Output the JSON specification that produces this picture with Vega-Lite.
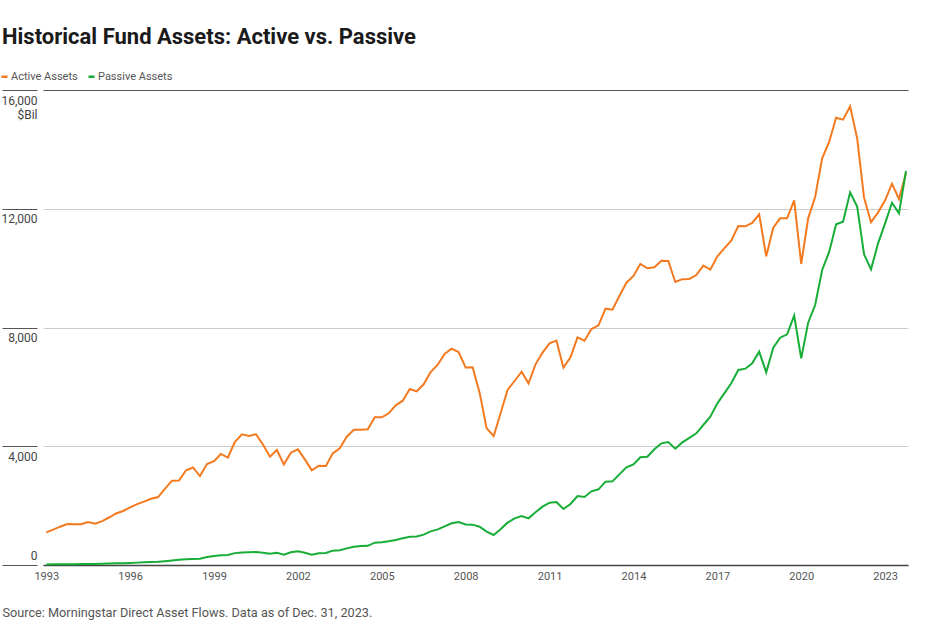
{
  "$schema": "https://vega.github.io/schema/vega-lite/v6.json",
  "width": 865,
  "height": 475,
  "autosize": {"type": "none"},
  "padding": {"left": 43, "top": 90, "right": 28, "bottom": 59},
  "background": "white",
  "config": {"view": {"stroke": null}, "font": "Roboto"},
  "title": {"text": "Historical Fund Assets: Active vs. Passive", "anchor": "start", "frame": "group", "dx": -41, "fontSize": 22, "fontWeight": "bold", "color": "#1a1a1a", "baseline": "alphabetic", "offset": 5, "font": "Roboto"},
  "data": {"values": [
    {"d": "1993-01-01", "Active Assets": 1100, "Passive Assets": 20},
    {"d": "1993-04-01", "Active Assets": 1190, "Passive Assets": 22},
    {"d": "1993-07-01", "Active Assets": 1290, "Passive Assets": 24},
    {"d": "1993-10-01", "Active Assets": 1381, "Passive Assets": 26},
    {"d": "1994-01-01", "Active Assets": 1375, "Passive Assets": 28},
    {"d": "1994-04-01", "Active Assets": 1375, "Passive Assets": 30},
    {"d": "1994-07-01", "Active Assets": 1448, "Passive Assets": 33},
    {"d": "1994-10-01", "Active Assets": 1390, "Passive Assets": 37},
    {"d": "1995-01-01", "Active Assets": 1480, "Passive Assets": 42},
    {"d": "1995-04-01", "Active Assets": 1600, "Passive Assets": 48},
    {"d": "1995-07-01", "Active Assets": 1735, "Passive Assets": 55},
    {"d": "1995-10-01", "Active Assets": 1820, "Passive Assets": 62},
    {"d": "1996-01-01", "Active Assets": 1940, "Passive Assets": 70},
    {"d": "1996-04-01", "Active Assets": 2050, "Passive Assets": 80},
    {"d": "1996-07-01", "Active Assets": 2135, "Passive Assets": 90},
    {"d": "1996-10-01", "Active Assets": 2230, "Passive Assets": 100},
    {"d": "1997-01-01", "Active Assets": 2290, "Passive Assets": 112},
    {"d": "1997-04-01", "Active Assets": 2570, "Passive Assets": 130},
    {"d": "1997-07-01", "Active Assets": 2840, "Passive Assets": 150},
    {"d": "1997-10-01", "Active Assets": 2845, "Passive Assets": 175},
    {"d": "1998-01-01", "Active Assets": 3190, "Passive Assets": 190},
    {"d": "1998-04-01", "Active Assets": 3285, "Passive Assets": 200},
    {"d": "1998-07-01", "Active Assets": 2995, "Passive Assets": 213},
    {"d": "1998-10-01", "Active Assets": 3400, "Passive Assets": 270},
    {"d": "1999-01-01", "Active Assets": 3500, "Passive Assets": 300},
    {"d": "1999-04-01", "Active Assets": 3740, "Passive Assets": 330},
    {"d": "1999-07-01", "Active Assets": 3620, "Passive Assets": 337},
    {"d": "1999-10-01", "Active Assets": 4150, "Passive Assets": 400},
    {"d": "2000-01-01", "Active Assets": 4400, "Passive Assets": 420},
    {"d": "2000-04-01", "Active Assets": 4350, "Passive Assets": 430},
    {"d": "2000-07-01", "Active Assets": 4405, "Passive Assets": 435},
    {"d": "2000-10-01", "Active Assets": 4060, "Passive Assets": 415},
    {"d": "2001-01-01", "Active Assets": 3650, "Passive Assets": 380},
    {"d": "2001-04-01", "Active Assets": 3874, "Passive Assets": 415},
    {"d": "2001-07-01", "Active Assets": 3391, "Passive Assets": 350},
    {"d": "2001-10-01", "Active Assets": 3784, "Passive Assets": 427},
    {"d": "2002-01-01", "Active Assets": 3896, "Passive Assets": 460},
    {"d": "2002-04-01", "Active Assets": 3559, "Passive Assets": 415},
    {"d": "2002-07-01", "Active Assets": 3189, "Passive Assets": 348},
    {"d": "2002-10-01", "Active Assets": 3346, "Passive Assets": 393},
    {"d": "2003-01-01", "Active Assets": 3335, "Passive Assets": 404},
    {"d": "2003-04-01", "Active Assets": 3761, "Passive Assets": 483},
    {"d": "2003-07-01", "Active Assets": 3930, "Passive Assets": 494},
    {"d": "2003-10-01", "Active Assets": 4322, "Passive Assets": 561},
    {"d": "2004-01-01", "Active Assets": 4558, "Passive Assets": 617},
    {"d": "2004-04-01", "Active Assets": 4558, "Passive Assets": 640},
    {"d": "2004-07-01", "Active Assets": 4570, "Passive Assets": 645},
    {"d": "2004-10-01", "Active Assets": 4974, "Passive Assets": 752},
    {"d": "2005-01-01", "Active Assets": 4974, "Passive Assets": 764},
    {"d": "2005-04-01", "Active Assets": 5109, "Passive Assets": 797},
    {"d": "2005-07-01", "Active Assets": 5378, "Passive Assets": 842},
    {"d": "2005-10-01", "Active Assets": 5535, "Passive Assets": 898},
    {"d": "2006-01-01", "Active Assets": 5928, "Passive Assets": 954},
    {"d": "2006-04-01", "Active Assets": 5850, "Passive Assets": 960},
    {"d": "2006-07-01", "Active Assets": 6086, "Passive Assets": 1022},
    {"d": "2006-10-01", "Active Assets": 6501, "Passive Assets": 1134},
    {"d": "2007-01-01", "Active Assets": 6748, "Passive Assets": 1201},
    {"d": "2007-04-01", "Active Assets": 7107, "Passive Assets": 1302},
    {"d": "2007-07-01", "Active Assets": 7287, "Passive Assets": 1404},
    {"d": "2007-10-01", "Active Assets": 7175, "Passive Assets": 1448},
    {"d": "2008-01-01", "Active Assets": 6650, "Passive Assets": 1365},
    {"d": "2008-04-01", "Active Assets": 6658, "Passive Assets": 1359},
    {"d": "2008-07-01", "Active Assets": 5805, "Passive Assets": 1291},
    {"d": "2008-10-01", "Active Assets": 4603, "Passive Assets": 1123},
    {"d": "2009-01-01", "Active Assets": 4345, "Passive Assets": 1011},
    {"d": "2009-04-01", "Active Assets": 5109, "Passive Assets": 1201},
    {"d": "2009-07-01", "Active Assets": 5895, "Passive Assets": 1426},
    {"d": "2009-10-01", "Active Assets": 6198, "Passive Assets": 1572},
    {"d": "2010-01-01", "Active Assets": 6512, "Passive Assets": 1651},
    {"d": "2010-04-01", "Active Assets": 6119, "Passive Assets": 1572},
    {"d": "2010-07-01", "Active Assets": 6759, "Passive Assets": 1774},
    {"d": "2010-10-01", "Active Assets": 7152, "Passive Assets": 1965},
    {"d": "2011-01-01", "Active Assets": 7467, "Passive Assets": 2100},
    {"d": "2011-04-01", "Active Assets": 7556, "Passive Assets": 2122},
    {"d": "2011-07-01", "Active Assets": 6647, "Passive Assets": 1886},
    {"d": "2011-10-01", "Active Assets": 6995, "Passive Assets": 2055},
    {"d": "2012-01-01", "Active Assets": 7669, "Passive Assets": 2324},
    {"d": "2012-04-01", "Active Assets": 7556, "Passive Assets": 2291},
    {"d": "2012-07-01", "Active Assets": 7949, "Passive Assets": 2481},
    {"d": "2012-10-01", "Active Assets": 8073, "Passive Assets": 2549},
    {"d": "2013-01-01", "Active Assets": 8634, "Passive Assets": 2807},
    {"d": "2013-04-01", "Active Assets": 8601, "Passive Assets": 2818},
    {"d": "2013-07-01", "Active Assets": 9061, "Passive Assets": 3054},
    {"d": "2013-10-01", "Active Assets": 9510, "Passive Assets": 3290},
    {"d": "2014-01-01", "Active Assets": 9735, "Passive Assets": 3391},
    {"d": "2014-04-01", "Active Assets": 10139, "Passive Assets": 3627},
    {"d": "2014-07-01", "Active Assets": 9993, "Passive Assets": 3649},
    {"d": "2014-10-01", "Active Assets": 10027, "Passive Assets": 3896},
    {"d": "2015-01-01", "Active Assets": 10251, "Passive Assets": 4098},
    {"d": "2015-04-01", "Active Assets": 10240, "Passive Assets": 4143},
    {"d": "2015-07-01", "Active Assets": 9533, "Passive Assets": 3919},
    {"d": "2015-10-01", "Active Assets": 9628, "Passive Assets": 4130},
    {"d": "2016-01-01", "Active Assets": 9634, "Passive Assets": 4280},
    {"d": "2016-04-01", "Active Assets": 9768, "Passive Assets": 4435},
    {"d": "2016-07-01", "Active Assets": 10083, "Passive Assets": 4716},
    {"d": "2016-10-01", "Active Assets": 9948, "Passive Assets": 4996},
    {"d": "2017-01-01", "Active Assets": 10397, "Passive Assets": 5446},
    {"d": "2017-04-01", "Active Assets": 10667, "Passive Assets": 5782},
    {"d": "2017-07-01", "Active Assets": 10925, "Passive Assets": 6119},
    {"d": "2017-10-01", "Active Assets": 11419, "Passive Assets": 6568},
    {"d": "2018-01-01", "Active Assets": 11408, "Passive Assets": 6613},
    {"d": "2018-04-01", "Active Assets": 11520, "Passive Assets": 6793},
    {"d": "2018-07-01", "Active Assets": 11812, "Passive Assets": 7186},
    {"d": "2018-10-01", "Active Assets": 10397, "Passive Assets": 6490},
    {"d": "2019-01-01", "Active Assets": 11363, "Passive Assets": 7321},
    {"d": "2019-04-01", "Active Assets": 11677, "Passive Assets": 7657},
    {"d": "2019-07-01", "Active Assets": 11677, "Passive Assets": 7770},
    {"d": "2019-10-01", "Active Assets": 12283, "Passive Assets": 8399},
    {"d": "2020-01-01", "Active Assets": 10139, "Passive Assets": 6961},
    {"d": "2020-04-01", "Active Assets": 11677, "Passive Assets": 8163},
    {"d": "2020-07-01", "Active Assets": 12396, "Passive Assets": 8758},
    {"d": "2020-10-01", "Active Assets": 13698, "Passive Assets": 9937},
    {"d": "2021-01-01", "Active Assets": 14260, "Passive Assets": 10554},
    {"d": "2021-04-01", "Active Assets": 15068, "Passive Assets": 11475},
    {"d": "2021-07-01", "Active Assets": 15001, "Passive Assets": 11565},
    {"d": "2021-10-01", "Active Assets": 15450, "Passive Assets": 12553},
    {"d": "2022-01-01", "Active Assets": 14372, "Passive Assets": 12070},
    {"d": "2022-04-01", "Active Assets": 12373, "Passive Assets": 10465},
    {"d": "2022-07-01", "Active Assets": 11543, "Passive Assets": 9959},
    {"d": "2022-10-01", "Active Assets": 11879, "Passive Assets": 10835},
    {"d": "2023-01-01", "Active Assets": 12283, "Passive Assets": 11509},
    {"d": "2023-04-01", "Active Assets": 12845, "Passive Assets": 12205},
    {"d": "2023-07-01", "Active Assets": 12328, "Passive Assets": 11846},
    {"d": "2023-10-01", "Active Assets": 13200, "Passive Assets": 13272}
  ]},
  "transform": [{"fold": ["Active Assets", "Passive Assets"], "as": ["series", "value"]}],
  "mark": {"type": "line", "strokeWidth": 2, "interpolate": "linear"},
  "encoding": {
    "x": {
      "field": "d", "type": "temporal",
      "scale": {"domain": [{"year": 1992, "month": 11, "date": 19, "utc": true}, {"year": 2023, "month": 10, "date": 27, "utc": true}]},
      "axis": {
        "values": [{"year": 1993, "utc": true}, {"year": 1996, "utc": true}, {"year": 1999, "utc": true}, {"year": 2002, "utc": true}, {"year": 2005, "utc": true}, {"year": 2008, "utc": true}, {"year": 2011, "utc": true}, {"year": 2014, "utc": true}, {"year": 2017, "utc": true}, {"year": 2020, "utc": true}, {"year": 2023, "utc": true}],
        "format": "%Y", "formatType": "utc",
        "ticks": false, "grid": false, "domain": true, "domainColor": "#444", "domainWidth": 1.5,
        "labelPadding": 5, "labelFontSize": 11, "labelColor": "#555", "labelFlush": false, "labelOverlap": false,
        "title": "Source: Morningstar Direct Asset Flows. Data as of Dec. 31, 2023.",
        "titleX": -41, "titleY": 51, "titleAlign": "left", "titleBaseline": "alphabetic", "titleFontSize": 12.7, "titleFontWeight": "normal", "titleColor": "#555"
      }
    },
    "y": {
      "field": "value", "type": "quantitative",
      "scale": {"domain": [0, 16000], "nice": false},
      "axis": {
        "values": [0, 4000, 8000, 12000, 16000], "title": null, "offset": 6, "domain": false,
        "ticks": true, "tickSize": 35, "tickColor": "#555", "tickWidth": 1,
        "grid": true, "gridColor": {"condition": {"test": "datum.value == 16000", "value": "#555"}, "value": "#cccccc"}, "gridWidth": 1,
        "labelAlign": "right", "labelPadding": -35,
        "labelBaseline": {"condition": {"test": "datum.value == 0", "value": "bottom"}, "value": "top"},
        "labelOffset": {"condition": {"test": "datum.value == 0", "value": -3}, "value": 5},
        "labelFontSize": 12, "labelColor": "#444", "labelLineHeight": 14,
        "labelExpr": "datum.value == 16000 ? ['16,000', '$Bil'] : datum.label",
        "labelFlush": false, "labelOverlap": false
      }
    },
    "color": {
      "field": "series", "type": "nominal",
      "scale": {"domain": ["Active Assets", "Passive Assets"], "range": ["#f47a20", "#17ad37"]},
      "legend": {
        "title": null, "orient": "none", "legendX": -44, "legendY": -19, "direction": "horizontal", "padding": 0,
        "symbolType": "stroke", "symbolSize": 36, "symbolStrokeWidth": 2.5,
        "labelFontSize": 11, "labelColor": "#555", "labelOffset": 1, "columnPadding": 5
      }
    }
  }
}
